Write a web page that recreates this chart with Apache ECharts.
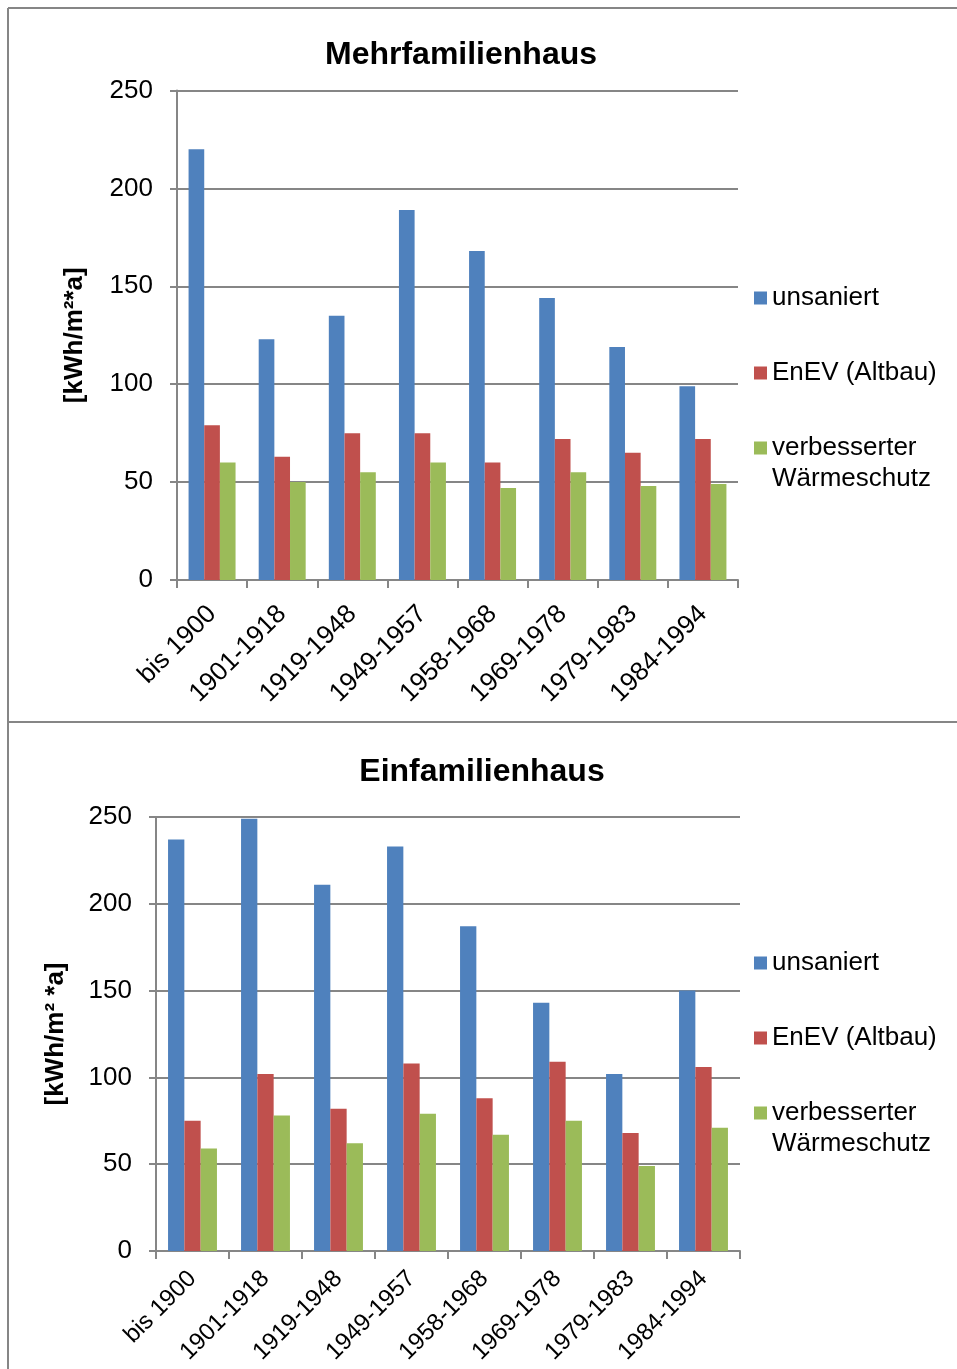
<!DOCTYPE html>
<html>
<head>
<meta charset="utf-8">
<script src="https://cdn.jsdelivr.net/npm/echarts@6/dist/echarts.min.js"></script>
<style>
  html, body { margin: 0; padding: 0; background: #fff; }
  #chart { width: 957px; height: 1369px; }
</style>
</head>
<body>
<div id="chart"></div>
<script>
// Building periods
const categories = ['bis 1900', '1901-1918', '1919-1948', '1949-1957', '1958-1968', '1969-1978', '1979-1983', '1984-1994'];
const seriesNames = ['unsaniert', 'EnEV (Altbau)', 'verbesserter Wärmeschutz'];

// Mehrfamilienhaus, kWh/(m²·a)
const mfhUnsaniert = [220, 123, 135, 189, 168, 144, 119, 99];
const mfhEnev = [79, 63, 75, 75, 60, 72, 65, 72];
const mfhVerbessert = [60, 50, 55, 60, 47, 55, 48, 49];

// Einfamilienhaus, kWh/(m²·a)
const efhUnsaniert = [237, 249, 211, 233, 187, 143, 102, 150];
const efhEnev = [75, 102, 82, 108, 88, 109, 68, 106];
const efhVerbessert = [59, 78, 62, 79, 67, 75, 49, 71];

// Value axis range
const yMin = 0;
const yMax = 250;
const yStep = 50;

const FONT = "'Liberation Sans', Arial, sans-serif";
const GRAY = '#868686';
const COLORS = ['#4F81BD', '#C0504D', '#9BBB59'];

// square marker sitting at the top of a two-line legend entry
const TOP_SQUARE = 'path://M0,0h13v13h-13z M0,44L0.001,44';

const chart = echarts.init(document.getElementById('chart'), null, { renderer: 'canvas' });

function xAxis(gridIndex, margin, fontSize) {
  return {
    type: 'category',
    gridIndex,
    data: categories,
    boundaryGap: true,
    axisLine: { lineStyle: { color: GRAY, width: 2 } },
    axisTick: { show: true, length: 8, alignWithLabel: false, lineStyle: { color: GRAY, width: 2 } },
    axisLabel: { interval: 0, rotate: 45, margin, color: '#000', fontSize, fontFamily: FONT }
  };
}

function yAxis(gridIndex, name, nameGap) {
  return {
    type: 'value',
    gridIndex,
    min: yMin, max: yMax, interval: yStep,
    name,
    nameLocation: 'middle',
    nameRotate: 90,
    nameGap,
    nameTextStyle: { color: '#000', fontSize: 26, fontWeight: 'bold', fontFamily: FONT },
    axisLine: { show: true, lineStyle: { color: GRAY, width: 2 } },
    axisTick: { show: true, length: 7, lineStyle: { color: GRAY, width: 2 } },
    axisLabel: { margin: 24, color: '#000', fontSize: 26, fontFamily: FONT },
    splitLine: { show: true, lineStyle: { color: GRAY, width: 2 } }
  };
}

function bars(idx, values, name, color) {
  return {
    type: 'bar',
    name,
    xAxisIndex: idx,
    yAxisIndex: idx,
    data: values,
    barGap: '0%',
    barCategoryGap: '33%',
    itemStyle: { color },
    emphasis: { disabled: true }
  };
}

function legendItem(name, top, multiLine) {
  const l = {
    orient: 'vertical',
    left: 754,
    top,
    padding: 0,
    itemGap: 0,
    itemWidth: 13,
    itemHeight: multiLine ? 44 : 13,
    icon: multiLine ? TOP_SQUARE : 'rect',
    selectedMode: false,
    data: [name],
    textStyle: { color: '#000', fontSize: 26, lineHeight: 31, fontFamily: FONT }
  };
  if (multiLine) l.formatter = n => n.replace(' ', '\n');
  return l;
}

const option = {
  animation: false,
  backgroundColor: '#fff',
  color: COLORS,
  title: [
    { text: 'Mehrfamilienhaus', left: 461, top: 39, textAlign: 'center', padding: 0,
      textStyle: { fontSize: 32, fontWeight: 'bold', color: '#000', fontFamily: FONT } },
    { text: 'Einfamilienhaus', left: 482, top: 756, textAlign: 'center', padding: 0,
      textStyle: { fontSize: 32, fontWeight: 'bold', color: '#000', fontFamily: FONT } }
  ],
  legend: [
    legendItem(seriesNames[0], 282.5, false),
    legendItem(seriesNames[1], 357.5, false),
    legendItem(seriesNames[2], 432.5, true),
    legendItem(seriesNames[0], 947.5, false),
    legendItem(seriesNames[1], 1022.5, false),
    legendItem(seriesNames[2], 1097.5, true)
  ],
  grid: [
    { left: 177, top: 90.5, width: 561, height: 489.5, outerBoundsMode: 'none' },
    { left: 156, top: 817, width: 584, height: 434, outerBoundsMode: 'none' }
  ],
  xAxis: [xAxis(0, 30, 26), xAxis(1, 24, 24)],
  yAxis: [yAxis(0, '[kWh/m²*a]', 89), yAxis(1, '[kWh/m² *a]', 87)],
  series: [
    bars(0, mfhUnsaniert, seriesNames[0], COLORS[0]),
    bars(0, mfhEnev, seriesNames[1], COLORS[1]),
    bars(0, mfhVerbessert, seriesNames[2], COLORS[2]),
    bars(1, efhUnsaniert, seriesNames[0], COLORS[0]),
    bars(1, efhEnev, seriesNames[1], COLORS[1]),
    bars(1, efhVerbessert, seriesNames[2], COLORS[2])
  ],
  graphic: [
    // frame around the two chart panels
    { type: 'line', shape: { x1: 8, y1: 8, x2: 957, y2: 8 }, style: { stroke: GRAY, lineWidth: 2 }, silent: true },
    { type: 'line', shape: { x1: 8, y1: 8, x2: 8, y2: 1369 }, style: { stroke: GRAY, lineWidth: 2 }, silent: true },
    { type: 'line', shape: { x1: 8, y1: 722, x2: 957, y2: 722 }, style: { stroke: GRAY, lineWidth: 2 }, silent: true }
  ]
};

chart.setOption(option);
</script>
</body>
</html>
